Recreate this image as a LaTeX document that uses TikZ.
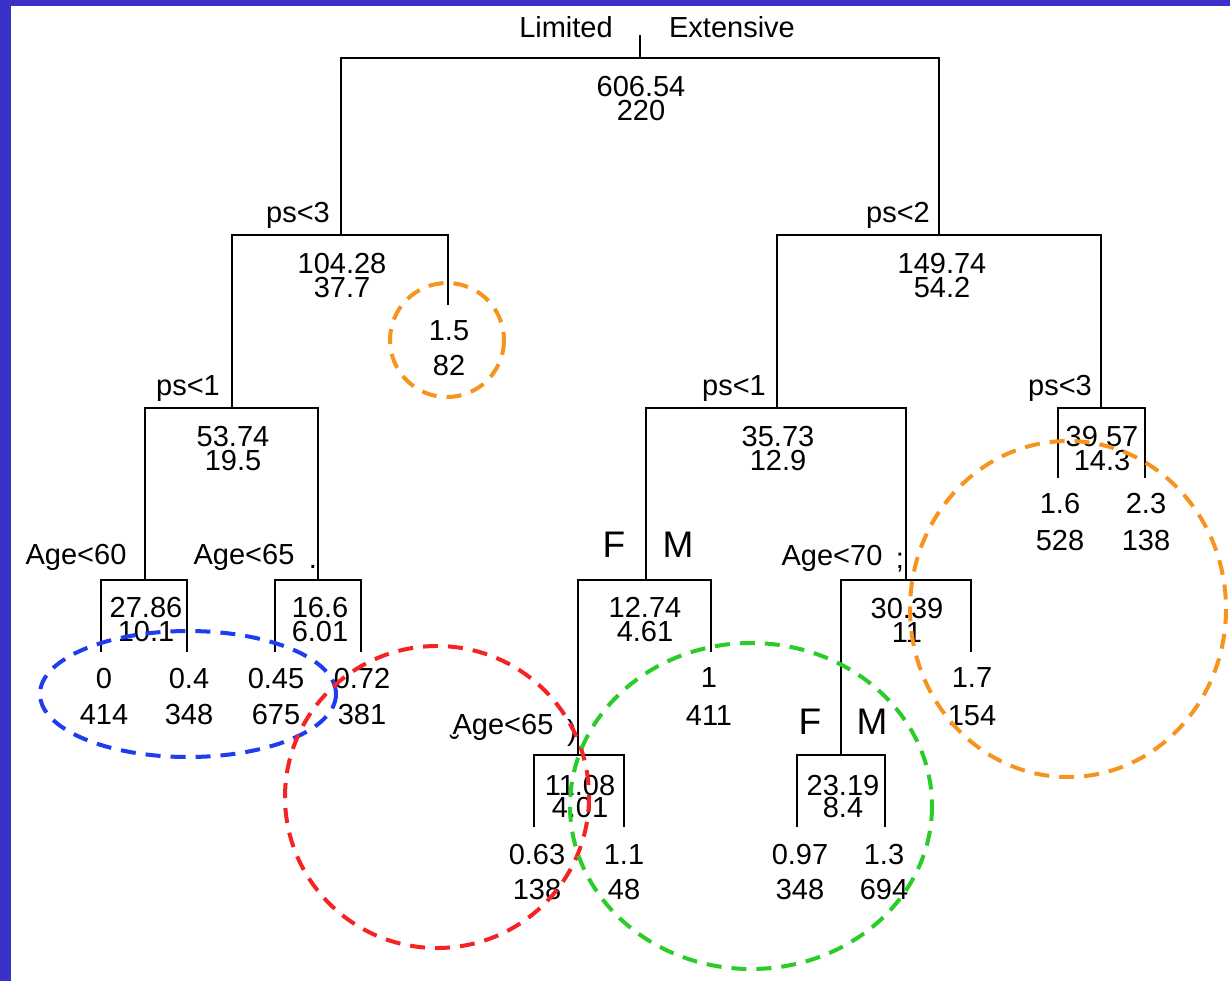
\documentclass[tikz,border=0pt]{standalone}
\usepackage{fontspec}
\setmainfont{Liberation Sans}
\definecolor{frameblue}{RGB}{57,49,201}
\definecolor{ringorange}{RGB}{247,148,30}
\definecolor{ringblue}{RGB}{30,60,240}
\definecolor{ringred}{RGB}{245,35,35}
\definecolor{ringgreen}{RGB}{40,205,40}
\tikzset{
  txt/.style={inner sep=0pt, anchor=center, text height=0.716em, text depth=0pt,
              font=\fontsize{14.5}{16}\selectfont},
  bigtxt/.style={txt, font=\fontsize{18.5}{20}\selectfont},
  % deviance over size, set tightly as two lines of one node
  pair/.style={inner sep=0pt, anchor=center, align=center,
               font=\fontsize{14.5}{12}\selectfont},
  tightpair/.style={pair, font=\fontsize{14.5}{11}\selectfont},
  branch/.style={draw=black, line width=1pt},
  ring/.style={line width=2pt, dash pattern=on 7.5pt off 5pt}
}
\begin{document}
\begin{tikzpicture}[x=0.5pt, y=-0.5pt]
\useasboundingbox (0,0) rectangle (1230,981);
% page and frame
\fill[white] (0,0) rectangle (1230,981);
\fill[frameblue] (0,0) rectangle (11,981);
\fill[frameblue] (0,0) rectangle (1230,6);

% split points (where the parent stem meets the bar)
\coordinate (top) at (640,35);
\coordinate (n1) at (640,58);
\coordinate (n2) at (341,235);
\coordinate (n3) at (939,235);
\coordinate (n4) at (232,408);
\coordinate (n5) at (777,408);
\coordinate (n6) at (1101,408);
\coordinate (n7) at (145,580);
\coordinate (n8) at (318,580);
\coordinate (n9) at (646,580);
\coordinate (n10) at (906,580);
\coordinate (n11) at (578,755);
\coordinate (n12) at (841,755);
% leaf stem ends
\coordinate (l1) at (448,305);
\coordinate (l2) at (1058,478);
\coordinate (l3) at (1145,478);
\coordinate (l4) at (101,652);
\coordinate (l5) at (187,652);
\coordinate (l6) at (275,652);
\coordinate (l7) at (361,652);
\coordinate (l8) at (711,652);
\coordinate (l9) at (971,652);
\coordinate (l10) at (534,827);
\coordinate (l11) at (624,827);
\coordinate (l12) at (797,827);
\coordinate (l13) at (885,827);

% tree branches
\draw[branch] (top) -- (n1);
\draw[branch] (n2) |- (n1) -| (n3);
\draw[branch] (n4) |- (n2) -| (l1);
\draw[branch] (n5) |- (n3) -| (n6);
\draw[branch] (n7) |- (n4) -| (n8);
\draw[branch] (n9) |- (n5) -| (n10);
\draw[branch] (l2) |- (n6) -| (l3);
\draw[branch] (l4) |- (n7) -| (l5);
\draw[branch] (l6) |- (n8) -| (l7);
\draw[branch] (n11) |- (n9) -| (l8);
\draw[branch] (n12) |- (n10) -| (l9);
\draw[branch] (l10) |- (n11) -| (l11);
\draw[branch] (l12) |- (n12) -| (l13);

% split labels
\node[txt] (sLim) at (566,30) {Limited};
\node[txt] (sExt) at (732,30) {Extensive};
\node[txt] (s2) at (298,215) {ps<3};
\node[txt] (s3) at (898,215) {ps<2};
\node[txt] (s4) at (188,388) {ps<1};
\node[txt] (s5) at (734,388) {ps<1};
\node[txt] (s6) at (1060,388) {ps<3};
\node[txt] (s7) at (76,557) {Age<60};
\node[txt] (s8) at (244,557) {Age<65};
\node[txt] (s8b) at (313,561) {.};
\node[bigtxt] (s9F) at (614,550) {F};
\node[bigtxt] (s9M) at (678,550) {M};
\node[txt] (s10) at (832,558) {Age<70};
\node[txt] (s10b) at (900,561) {;};
\node[txt] (s11) at (503,727) {Age<65};
\node[txt] (s11b) at (572,733) {)};
\node[txt] (s11c) at (455,749) {˘};
\node[bigtxt] (s12F) at (810,727) {F};
\node[bigtxt] (s12M) at (872,727) {M};

% node deviance and size
\node[pair] (d1) at (641,99) {606.54\\220};
\node[pair] (d2) at (342,276) {104.28\\37.7};
\node[pair] (d3) at (942,276) {149.74\\54.2};
\node[pair] (d4) at (233,449) {53.74\\19.5};
\node[pair] (d5) at (778,449) {35.73\\12.9};
\node[pair] (d6) at (1102,449) {39.57\\14.3};
\node[pair] (d7) at (146,620) {27.86\\10.1};
\node[pair] (d8) at (320,620) {16.6\\6.01};
\node[pair] (d9) at (645,620) {12.74\\4.61};
\node[pair] (d10) at (907,620) {30.39\\11};
\node[tightpair] (d11) at (580,796) {11.08\\4.01};
\node[tightpair] (d12) at (843,796) {23.19\\8.4};

% leaves
\node[txt] (a1) at (449,333) {1.5};
\node[txt] (b1) at (449,368) {82};
\node[txt] (a2) at (1060,506) {1.6};
\node[txt] (b2) at (1060,543) {528};
\node[txt] (a3) at (1146,506) {2.3};
\node[txt] (b3) at (1146,543) {138};
\node[txt] (a4) at (104,681) {0};
\node[txt] (b4) at (104,717) {414};
\node[txt] (a5) at (189,681) {0.4};
\node[txt] (b5) at (189,717) {348};
\node[txt] (a6) at (276,681) {0.45};
\node[txt] (b6) at (276,717) {675};
\node[txt] (a7) at (362,681) {0.72};
\node[txt] (b7) at (362,717) {381};
\node[txt] (a8) at (709,680) {1};
\node[txt] (b8) at (709,718) {411};
\node[txt] (a9) at (972,680) {1.7};
\node[txt] (b9) at (972,718) {154};
\node[txt] (a10) at (537,857) {0.63};
\node[txt] (b10) at (537,892) {138};
\node[txt] (a11) at (624,857) {1.1};
\node[txt] (b11) at (624,892) {48};
\node[txt] (a12) at (800,857) {0.97};
\node[txt] (b12) at (800,892) {348};
\node[txt] (a13) at (884,857) {1.3};
\node[txt] (b13) at (884,892) {694};

% highlight rings
\draw[ring, ringorange] (447,340) circle[radius=57];
\draw[ring, ringorange] (1068,609) ellipse[x radius=158, y radius=168];
\draw[ring, ringblue] (188,694) ellipse[x radius=148, y radius=63];
\draw[ring, ringred] (437,797) ellipse[x radius=152, y radius=151];
\draw[ring, ringgreen] (751,806) ellipse[x radius=181, y radius=163];
\end{tikzpicture}
\end{document}
